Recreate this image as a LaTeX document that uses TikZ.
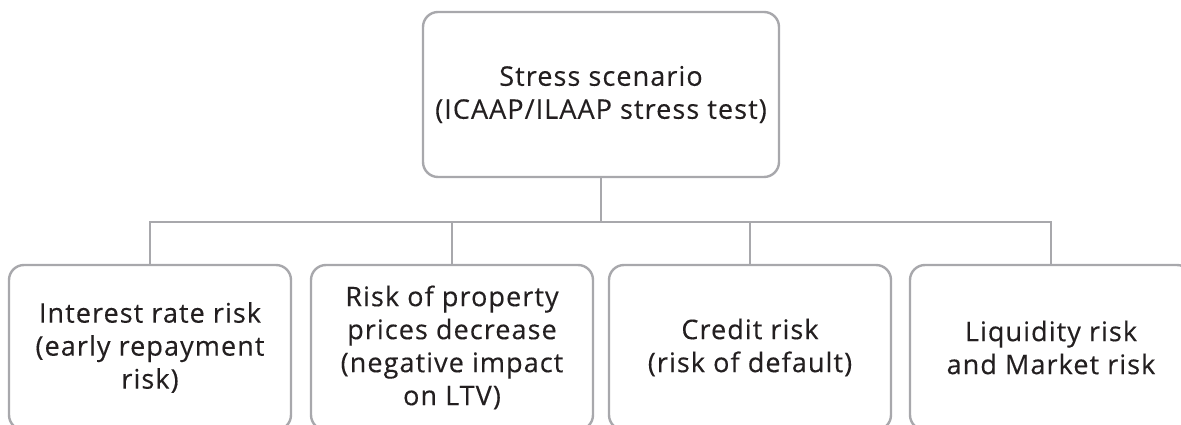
\documentclass[tikz,border=0pt]{standalone}
\usepackage{fontspec}
\setmainfont[LetterSpace=4,FakeBold=0.3]{Open Sans}
\usepackage{tikz}
\usetikzlibrary{positioning}
\definecolor{boxgray}{RGB}{168,168,172}
\definecolor{textgray}{RGB}{35,31,32}

\begin{document}
\begin{tikzpicture}[x=1pt,y=1pt]
  \tikzset{VertexStyle/.style = {
    shape          = rectangle,
    rounded corners = 15pt,
    draw           = boxgray,
    fill           = white,
    line width     = 2.4pt,
    text           = textgray,
    align          = center,
    font           = \fontsize{27}{33}\selectfont,
    inner sep      = 0pt,
    outer sep      = 0pt,
    minimum height = 165pt
    }
  }
  \tikzset{EdgeStyle/.style = {
    draw       = boxgray,
    line width = 2.4pt
    }
  }
  \useasboundingbox (0,0) rectangle (1181,425);

	\node[VertexStyle, minimum width=356pt](A1) at (601, 330.5) {Stress scenario\\(ICAAP/ILAAP stress test)};
	\node[VertexStyle, minimum width=282pt](B1) at (150, 77.5) {Interest rate risk\\(early repayment\\risk)};
	\node[VertexStyle, minimum width=282pt](B2) at (452, 77.5) {Risk of property\\prices decrease\\(negative impact\\on LTV)};
	\node[VertexStyle, minimum width=282pt](B3) at (750, 77.5) {Credit risk\\(risk of default)};
	\node[VertexStyle, minimum width=282pt](B4) at (1051, 77.5) {Liquidity risk\\and Market risk};
	\coordinate (Bus) at (601, 203);

	\draw[EdgeStyle](A1.south) -- (Bus);
	\draw[EdgeStyle](B1.north) |- (Bus);
	\draw[EdgeStyle](B2.north) |- (Bus);
	\draw[EdgeStyle](B3.north) |- (Bus);
	\draw[EdgeStyle](B4.north) |- (Bus);

  \end{tikzpicture}
\end{document}
